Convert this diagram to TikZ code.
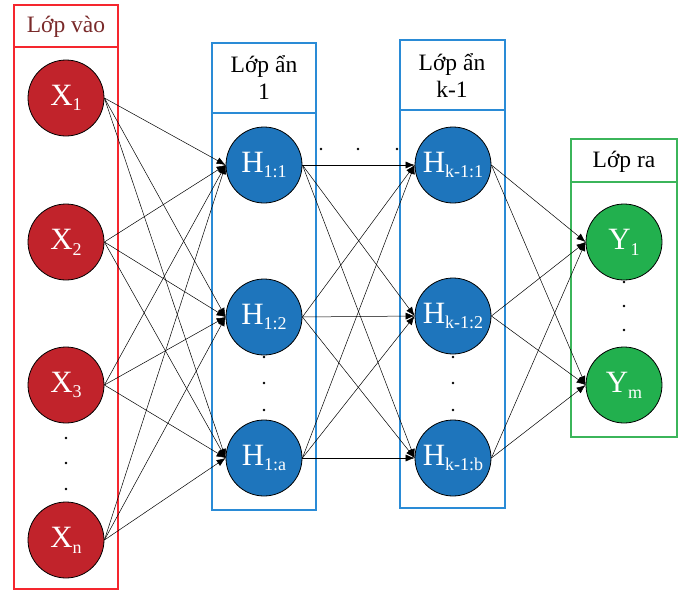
\documentclass[tikz,border=0pt]{standalone}
\usepackage{fontspec}
\setmainfont{Liberation Serif}
\newfontfamily\tnr{Liberation Serif}
\usetikzlibrary{arrows.meta}
\definecolor{nred}{HTML}{C1232B}
\definecolor{nblue}{HTML}{1E75BC}
\definecolor{ngreen}{HTML}{22B04E}
\definecolor{bred}{HTML}{F5262E}
\definecolor{bblue}{HTML}{2A8BD6}
\definecolor{bgreen}{HTML}{3BB55A}
\definecolor{hdrred}{HTML}{7A2A2A}
\newcommand\sbs[1]{\raisebox{-0.4ex}{\fontsize{18}{18}\selectfont #1}}
\begin{document}
\begin{tikzpicture}[x=1pt,y=-1pt,
  neuron/.style={circle,draw=black,line width=0.8pt,minimum size=76pt,inner sep=0pt,text=white,font=\tnr\fontsize{31}{31}\selectfont},
  inn/.style={neuron,fill=nred},
  hid/.style={neuron,fill=nblue},
  outn/.style={neuron,fill=ngreen},
  layerbox/.style={line width=2.2pt},
  hdr/.style={align=center,font=\tnr\fontsize{23.5}{27}\selectfont,inner sep=0pt},
  conn/.style={line width=0.5pt,-{Latex[length=9pt,width=7pt]}},
  dotmark/.style={fill=black}
]
\useasboundingbox (0,0) rectangle (678,590);
\fill[white] (0,0) rectangle (678,590);
% boxes
\draw[layerbox,bred] (14,5) rectangle (118,589);
\draw[layerbox,bred] (14,47) -- (118,47);
\draw[layerbox,bblue] (212,43) rectangle (316,510);
\draw[layerbox,bblue] (212,113) -- (316,113);
\draw[layerbox,bblue] (400,40) rectangle (505,508);
\draw[layerbox,bblue] (400,110) -- (505,110);
\draw[layerbox,bgreen] (571,139) rectangle (677,437);
\draw[layerbox,bgreen] (571,182) -- (677,182);
% headers
\node[hdr,text=hdrred] (hin) at (66,27) {Lớp vào};
\node[hdr] (hh1) at (264,77) {Lớp ẩn\\1};
\node[hdr] (hhk) at (452,75) {Lớp ẩn\\k-1};
\node[hdr] (hout) at (624,162) {Lớp ra};
% neurons
\node[inn] (x1) at (66,98) {X\sbs{1}};
\node[inn] (x2) at (66,242) {X\sbs{2}};
\node[inn] (x3) at (66,385) {X\sbs{3}};
\node[inn] (xn) at (66,540) {X\sbs{n}};
\node[hid] (h11) at (264,165) {H\sbs{1:1}};
\node[hid] (h12) at (264,317) {H\sbs{1:2}};
\node[hid] (h1a) at (264,458) {H\sbs{1:a}};
\node[hid] (hk1) at (453,165) {H\sbs{k-1:1}};
\node[hid] (hk2) at (453,316) {H\sbs{k-1:2}};
\node[hid] (hkb) at (453,458) {H\sbs{k-1:b}};
\node[outn] (y1) at (624,242) {Y\sbs{1}};
\node[outn] (ym) at (624,385) {Y\sbs{m}};
% connections
\foreach \s in {x1,x2,x3,xn}
  \foreach \t in {h11,h12,h1a}
    \draw[conn] (\s.east) -- (\t.west);
\foreach \s in {h11,h12,h1a}
  \foreach \t in {hk1,hk2,hkb}
    \draw[conn] (\s.east) -- (\t.west);
\foreach \s in {hk1,hk2,hkb}
  \foreach \t in {y1,ym}
    \draw[conn] (\s.east) -- (\t.west);
% dots
\foreach \yy in {438,463,489} \fill[dotmark] (66,\yy) circle (1.3);
\foreach \yy in {357,383,410} \fill[dotmark] (264,\yy) circle (1.3);
\foreach \yy in {357,383,410} \fill[dotmark] (453,\yy) circle (1.3);
\foreach \yy in {282,306,330} \fill[dotmark] (624,\yy) circle (1.3);
\foreach \xx in {321,358,397} \fill[dotmark] (\xx,149) circle (1.3);
\end{tikzpicture}
\end{document}
